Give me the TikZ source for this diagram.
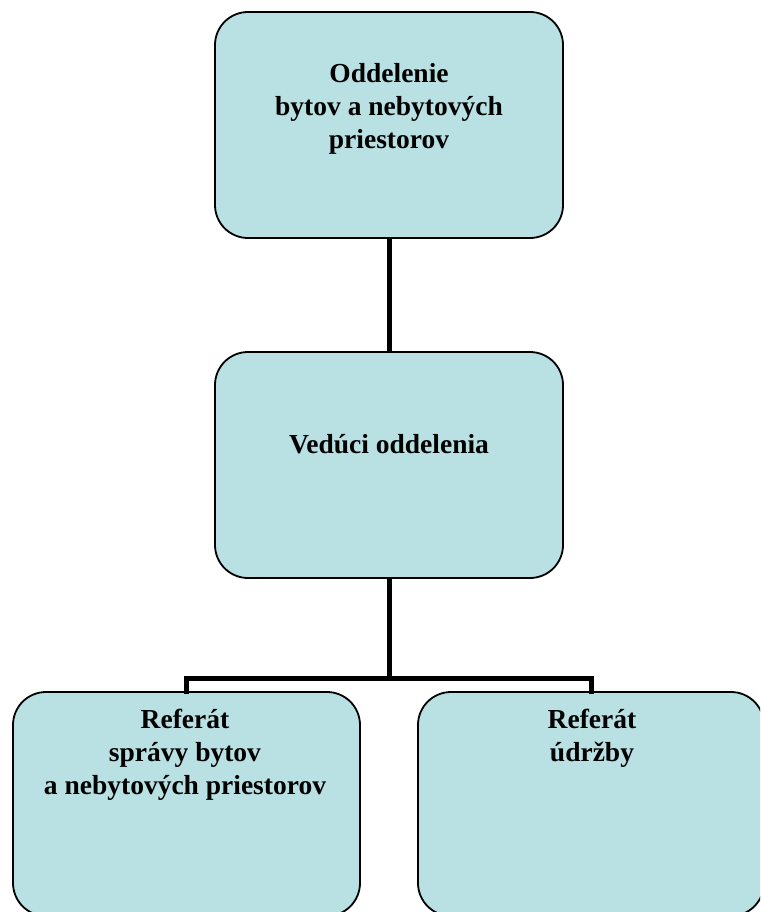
\documentclass[tikz,border=0pt]{standalone}
\usepackage{fontspec}
\setmainfont{Liberation Serif}
\definecolor{boxfill}{HTML}{B9E0E3}
\begin{document}
\begin{tikzpicture}[x=1pt, y=-1pt,
  unit/.style={draw=black, line width=1.8pt, fill=boxfill, rounded corners=33pt,
    inner sep=0pt, minimum width=348pt, minimum height=226pt},
  caption/.style={anchor=north, inner sep=0pt, align=center,
    font=\bfseries\fontsize{27.5}{33}\selectfont},
  link/.style={line width=5pt}]
  % page frame
  \clip (0,0) rectangle (760,912);
  \fill[white] (0,0) rectangle (760,912);

  % organisational units
  \node[unit] (dept) at (389,125) {};
  \node[unit] (head) at (389,465) {};
  \node[unit, minimum width=347pt, minimum height=224pt] (refA) at (186.5,804) {};
  \node[unit, minimum width=346pt, minimum height=224pt] (refB) at (591,804) {};

  % captions (first baseline sits 23.1pt below the strut top)
  \node[caption] (deptT) at (389,58.9) {\strut Oddelenie\\bytov a nebytových\\priestorov};
  \node[caption] (headT) at (389,429.9) {\strut Vedúci oddelenia};
  \node[caption] (refAT) at (185,704.9) {\strut Referát\\správy bytov\\a nebytových priestorov};
  \node[caption] (refBT) at (592,704.9) {\strut Referát\\údržby};

  % reporting lines
  \coordinate (bus) at (389,678);
  \draw[link] (dept.south) -- (head.north);
  \draw[link] (head.south) -- (bus);
  \draw[link, line cap=rect] (bus) -| (refA.north);
  \draw[link, line cap=rect] (bus) -| (refB.north);
\end{tikzpicture}
\end{document}
